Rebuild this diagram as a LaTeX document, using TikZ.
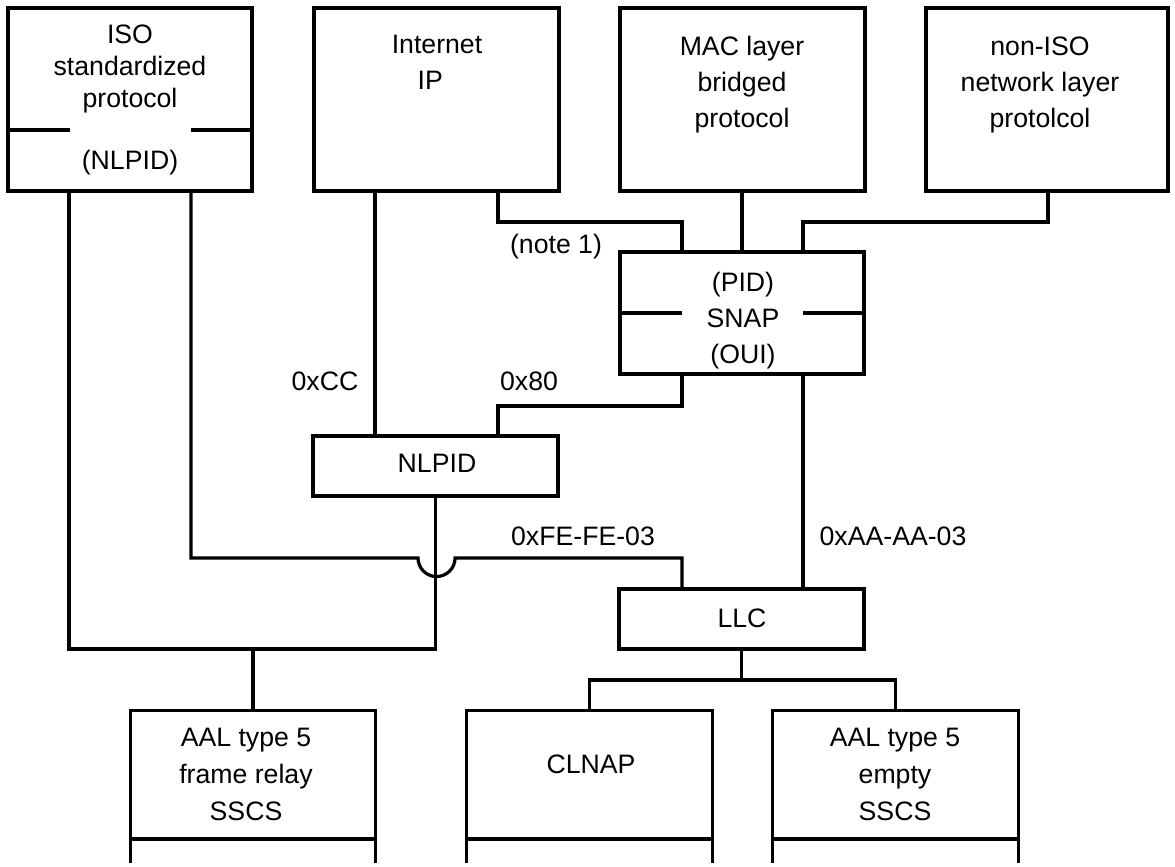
\documentclass[tikz,border=0pt]{standalone}
\usepackage{fontspec}
\setmainfont{Liberation Sans}
\usetikzlibrary{fit}
\newcommand\tstrut{\rule{0pt}{15pt}}
\begin{document}
\begin{tikzpicture}[x=0.75pt,y=-0.75pt,
  box/.style={draw, line width=2.4pt, inner sep=0pt},
  openbox/.style={draw=none, inner sep=0pt},
  wire/.style={line width=2.4pt},
  txt/.style={align=center, inner sep=0pt, anchor=north, font=\fontsize{20}{27}\selectfont},
  lbl/.style={inner sep=0pt, anchor=base, font=\fontsize{20}{24}\selectfont}]
\useasboundingbox (0,0) rectangle (1175,867);
% boxes
\node[box, fit={(8,8) (252,191)}] (iso) {};
\node[box, fit={(314,8) (559,191)}] (inet) {};
\node[box, fit={(620,8) (865,191)}] (mac) {};
\node[box, fit={(926,8) (1168,191)}] (noniso) {};
\node[box, fit={(620,252) (864,374)}] (snap) {};
\node[box, fit={(313,436) (558,496)}] (nlpid) {};
\node[box, fit={(619,589) (864,649)}] (llc) {};
\node[openbox, fit={(131,711) (375,863)}] (aalfr) {};
\node[openbox, fit={(467,711) (712,863)}] (clnap) {};
\node[openbox, fit={(773,711) (1018,863)}] (aalem) {};
\foreach \b in {aalfr,clnap,aalem}{
  \draw[wire] (\b.south west) |- (\b.north east) -- (\b.south east);
  \draw[wire] (\b.west |- 0,839) -- (\b.east |- 0,839);
}
% dividers
\draw[wire] (iso.west |- 0,130) -- (70,130);
\draw[wire] (191,130) -- (iso.east |- 0,130);
\draw[wire] (snap.west |- 0,313) -- (682,313);
\draw[wire] (803,313) -- (snap.east |- 0,313);
% texts
\node[txt, font=\fontsize{20}{24}\selectfont] (isot) at (130,23) {\tstrut ISO\\standardized\\protocol};
\node[lbl] (isop) at (130,169) {(NLPID)};
\node[txt] (inett) at (437,33) {\tstrut Internet\\IP\rule{10pt}{0pt}};
\node[txt] (mact) at (742,35) {\tstrut MAC layer\\bridged\\protocol};
\node[txt] (nonisot) at (1040,35) {\tstrut non-ISO\\network layer\\protolcol};
\node[txt] (snapt) at (743,271) {\tstrut (PID)\\SNAP\\(OUI)};
\node[lbl] (nlpidt) at (437,472) {NLPID};
\node[lbl] (llct) at (742,627) {LLC};
\node[txt, font=\fontsize{20}{27.75}\selectfont] (aalfrt) at (246,726) {\tstrut AAL type 5\\frame relay\\SSCS};
\node[lbl] (clnapt) at (591,773) {CLNAP};
\node[txt, font=\fontsize{20}{27.75}\selectfont] (aalemt) at (895,726) {\tstrut AAL type 5\\empty\\SSCS};
% labels
\node[lbl] (n1) at (556,253) {(note 1)};
\node[lbl] (cc) at (325,390) {0xCC};
\node[lbl] (x80) at (529,390) {0x80};
\node[lbl] (fe) at (583,545) {0xFE-FE-03};
\node[lbl] (aa) at (893,545) {0xAA-AA-03};
% wires
\coordinate (j1) at (253,649);
\coordinate (j2) at (742,680);
\draw[wire] (iso.south -| 69,0) |- (nlpid.south |- j1) -- (nlpid.south);
\draw[wire] (j1) -- (aalfr.north);
\draw[wire] (iso.south -| 191,0) |- (418,558) arc[start angle=180, end angle=360, radius=13.9pt] -| (llc.north -| 682,0);
\draw[wire] (inet.south -| 375,0) -- (nlpid.north -| 375,0);
\draw[wire] (inet.south -| 498,0) -- (498,222) -| (snap.north -| 682,0);
\draw[wire] (mac.south -| snap.north) -- (snap.north);
\draw[wire] (noniso.south -| 1048,0) -- (1048,222) -| (snap.north -| 803,0);
\draw[wire] (snap.south -| 682,0) -- (682,406) -| (nlpid.north -| 498,0);
\draw[wire] (snap.south -| 803,0) -- (llc.north -| 803,0);
\draw[wire] (llc.south) -- (llc.south |- j2);
\draw[wire] (clnap.north) |- (llc.south |- j2) -| (aalem.north);
\end{tikzpicture}
\end{document}
